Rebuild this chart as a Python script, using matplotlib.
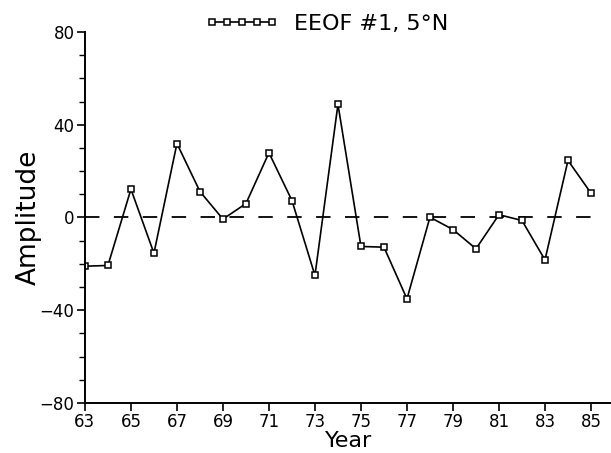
import matplotlib
matplotlib.use('Agg')
import matplotlib.pyplot as plt
from matplotlib.ticker import MultipleLocator

plt.rcParams['font.family'] = ['DejaVu Sans']

#--- data
years = [63, 64, 65, 66, 67, 68, 69, 70, 71, 72, 73, 74,
         75, 76, 77, 78, 79, 80, 81, 82, 83, 84, 85]
amplitude = [-21.0, -20.7, 12.2, -15.4, 31.9, 11.2, -0.7, 6.0, 27.9, 7.3, -25.0, 48.8,
             -12.5, -12.8, -35.1, 0.1, -5.2, -13.5, 1.2, -1.3, -18.3, 24.6, 10.5]
xticks = list(range(63, 86, 2))
yticks = [-80, -40, 0, 40, 80]
series_name = 'EEOF #1, 5°N'

fig = plt.figure(figsize=(6.11, 4.53), dpi=100)
ax = fig.add_axes([0.139, 0.1104, 0.861, 0.819])

ax.plot([years[0], years[-1]], [0, 0], color='black', lw=1.3, dashes=(8, 8))
ax.plot(years, amplitude, color='black', lw=1.2, marker='s', markersize=5,
        markerfacecolor='white', markeredgecolor='black', markeredgewidth=1.1,
        label=series_name)

ax.set_xlim(63, 85.87)
ax.set_ylim(-80, 80)
ax.set_xticks(xticks)
ax.set_xticklabels([str(t) for t in xticks])
ax.set_yticks(yticks)
ax.set_yticklabels([str(t).replace('-', '\u2212') for t in yticks])
ax.yaxis.set_minor_locator(MultipleLocator(10))

for s in ['top', 'right']:
  ax.spines[s].set_visible(False)
for s in ['left', 'bottom']:
  ax.spines[s].set_linewidth(1.4)
ax.tick_params(axis='both', which='major', direction='out', length=6, width=1.2,
               labelsize=12, pad=1.5)
ax.tick_params(axis='y', which='minor', direction='out', length=4, width=1.0)

ax.set_xlabel('Year', fontsize=16, va='top')
ax.xaxis.set_label_coords(0.502, -0.076)
ax.set_ylabel('Amplitude', fontsize=19)
ax.yaxis.set_label_coords(-0.082, 0.5)

leg = ax.legend(loc='center left', bbox_to_anchor=(205 / 611.0, 1 - 24 / 453.0),
                bbox_transform=fig.transFigure, frameon=False, numpoints=5,
                handlelength=3.3, handletextpad=0.7, fontsize=16,
                borderaxespad=0.0, borderpad=0.0)

fig.savefig('out.png', dpi=100)
